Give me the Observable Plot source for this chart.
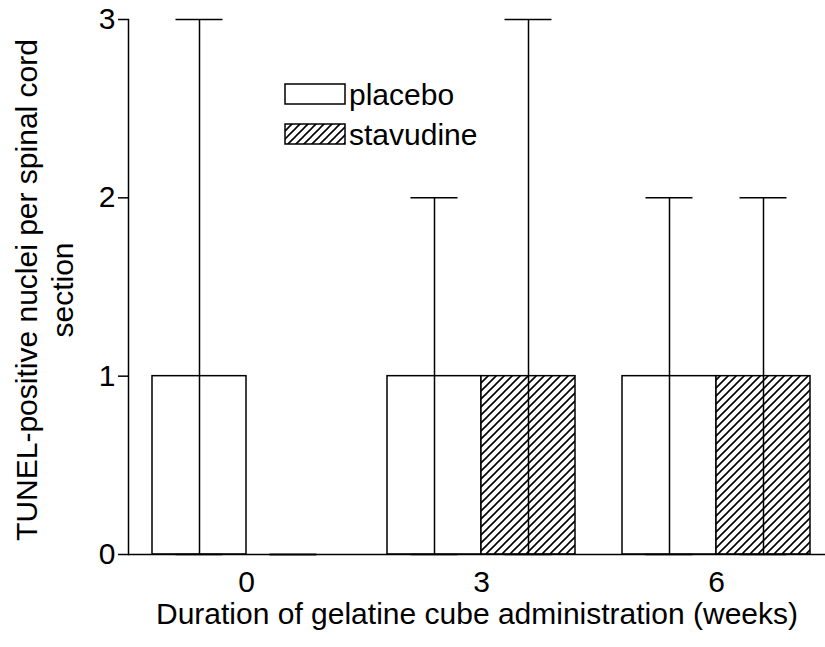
<!DOCTYPE html>
<html>
<head>
<meta charset="utf-8">
<script src="https://cdn.jsdelivr.net/npm/d3@7"></script>
<script src="https://cdn.jsdelivr.net/npm/@observablehq/plot@0.6"></script>
<style>
  body { margin: 0; background: white; }
  #chart { position: relative; width: 825px; height: 647px; }
</style>
</head>
<body>
<div id="chart"></div>
<script>
// Data
const groups = ["0", "3", "6"];            // weeks
const seriesNames = ["placebo", "stavudine"];
const placebo = [1, 1, 1];
const stavudine = [0, 1, 1];
const placeboLow = [0, 0, 0];
const placeboHigh = [3, 2, 2];
const stavudineLow = [0, 0, 0];
const stavudineHigh = [0, 3, 2];
const yTicks = [0, 1, 2, 3];
const xLabel = "Duration of gelatine cube administration (weeks)";
const yLabel = "TUNEL-positive nuclei per spinal cord\nsection";

const placeboRows = groups.map((g, i) => ({group: g, value: placebo[i], lo: placeboLow[i], hi: placeboHigh[i]}));
const stavRows = groups.map((g, i) => ({group: g, value: stavudine[i], lo: stavudineLow[i], hi: stavudineHigh[i]}));

const half = 94;   // half of the band width (pixels)
const capInsetNear = 23.5, capInsetFar = 117.5;
const FONT = "'Liberation Sans', Arial, sans-serif";

const hatchDefs = () => {
  const g = d3.create("svg:g");
  const p = g.append("defs").append("pattern")
    .attr("id", "hatch").attr("patternUnits", "userSpaceOnUse")
    .attr("width", 8).attr("height", 8);
  p.append("rect").attr("width", 8).attr("height", 8).attr("fill", "white");
  p.append("path").attr("d", "M-2,2 l4,-4 M0,8 l8,-8 M6,10 l4,-4")
    .attr("stroke", "black").attr("stroke-width", 1.6);
  return g.node();
};

const chart = Plot.plot({
  width: 825,
  height: 647,
  marginLeft: 128,
  marginRight: 0,
  marginTop: 19,
  marginBottom: 93,
  style: {fontFamily: FONT, fontSize: "30px", color: "black", background: "white", overflow: "visible"},
  x: {type: "band", domain: groups, range: [128, 833], paddingInner: 0.2, paddingOuter: 0.1, label: null},
  y: {domain: [0, 3], label: null},
  marks: [
    hatchDefs,
    Plot.rectY(placeboRows, {x: "group", y: "value", insetRight: half, fill: "white", stroke: "black", strokeWidth: 1.5}),
    Plot.rectY(stavRows, {x: "group", y: "value", insetLeft: half, fill: "url(#hatch)", stroke: "black", strokeWidth: 1.5}),
    // error bars
    Plot.ruleX(placeboRows, {x: "group", y1: "lo", y2: "hi", dx: -half / 2, stroke: "black", strokeWidth: 1.5}),
    Plot.ruleX(stavRows, {x: "group", y1: "lo", y2: "hi", dx: half / 2, stroke: "black", strokeWidth: 1.5}),
    Plot.tickY(placeboRows, {x: "group", y: "hi", insetLeft: capInsetNear, insetRight: capInsetFar, stroke: "black", strokeWidth: 1.5}),
    Plot.tickY(placeboRows, {x: "group", y: "lo", insetLeft: capInsetNear, insetRight: capInsetFar, stroke: "black", strokeWidth: 1.5}),
    Plot.tickY(stavRows, {x: "group", y: "hi", insetLeft: capInsetFar, insetRight: capInsetNear, stroke: "black", strokeWidth: 1.5}),
    Plot.tickY(stavRows, {x: "group", y: "lo", insetLeft: capInsetFar, insetRight: capInsetNear, stroke: "black", strokeWidth: 1.5}),
    // axes
    Plot.frame({anchor: "left", stroke: "black", strokeWidth: 1.5}),
    Plot.frame({anchor: "bottom", stroke: "black", strokeWidth: 1.5}),
    Plot.axisY({ticks: yTicks, tickFormat: "d", tickSize: 10, tickPadding: 3, label: null, fontSize: 30, strokeWidth: 1.5}),
    Plot.axisX({tickSize: 0, tickPadding: 16, label: null, fontSize: 30}),
    Plot.text([xLabel], {frameAnchor: "bottom", textAnchor: "middle", dy: 69, fontSize: 30, fill: "black"}),
    Plot.text([yLabel], {frameAnchor: "left", textAnchor: "middle", dx: -85, dy: 3, rotate: -90, fontSize: 30, lineHeight: 1.2, fill: "black"})
  ]
});

// Legend (inside the plot area)
const svg = d3.select(chart);
const legend = svg.append("g").attr("font-family", FONT).attr("font-size", 30).attr("text-anchor", "start");
const legendFills = ["white", "url(#hatch)"];
seriesNames.forEach((name, i) => {
  const yy = 84 + i * 40;
  legend.append("rect").attr("x", 285).attr("y", yy).attr("width", 60).attr("height", 20)
    .attr("fill", legendFills[i]).attr("stroke", "black").attr("stroke-width", 1.5);
  legend.append("text").attr("x", 349).attr("y", yy + 10).attr("dy", "0.35em").attr("fill", "black").text(name);
});

document.getElementById("chart").appendChild(chart);
</script>
</body>
</html>
